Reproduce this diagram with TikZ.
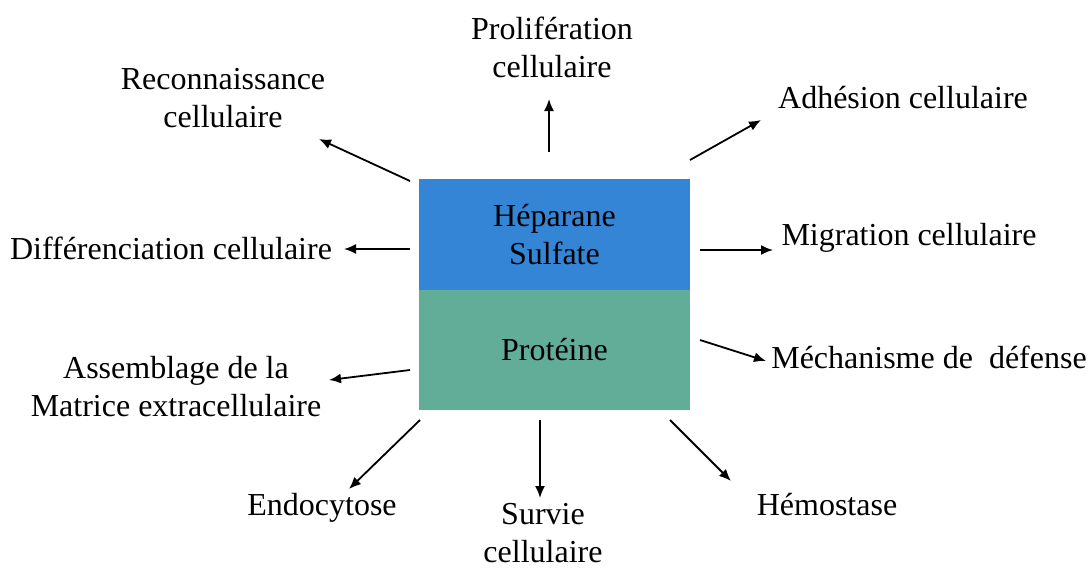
\documentclass[tikz,border=0pt]{standalone}
\usepackage{fontspec}
\setmainfont{Liberation Serif}
\usetikzlibrary{arrows.meta,positioning}
\definecolor{hsblue}{HTML}{3585D7}
\definecolor{protgreen}{HTML}{62AD97}

\begin{document}
\begin{tikzpicture}[x=0.5pt, y=-0.5pt,
    every node/.style={font=\fontsize{16}{19}\selectfont, align=center, inner sep=0pt},
    arr/.style={-{Latex[length=6pt,width=5pt]}, line width=0.9pt}]
  \useasboundingbox (0,0) rectangle (1090,567);
  % central box
  \node[fill=protgreen, minimum width=135.5pt, minimum height=60pt] (prot) at (554.5,350) {Prot\'eine};
  \node[fill=hsblue, minimum width=135.5pt, minimum height=55.5pt, above=-0.5pt of prot] (hs) {H\'eparane\\Sulfate};

  % functions
  \node (prolif) at (552,47) {Prolif\'eration\\cellulaire};
  \node (reconn) at (223,98) {Reconnaissance\\cellulaire};
  \node (adhes) at (903,98) {Adh\'esion cellulaire};
  \node (differ) at (171,248) {Diff\'erenciation cellulaire};
  \node (migr) at (909,238) {Migration cellulaire};
  \node (assem) at (176,387) {Assemblage de la\\Matrice extracellulaire};
  \node (defense) at (929,357) {M\'echanisme de\ \ d\'efense};
  \node (endo) at (322,508) {Endocytose};
  \node (survie) at (543,533) {Survie\\cellulaire};
  \node (hemo) at (827,505) {H\'emostase};

  % arrow ends
  \coordinate (prolif-t) at (549,152); \coordinate (prolif-h) at (549,99);
  \coordinate (reconn-t) at (410,181); \coordinate (reconn-h) at (319,139);
  \coordinate (adhes-t) at (690,160);  \coordinate (adhes-h) at (761,120);
  \coordinate (differ-t) at (410,249); \coordinate (differ-h) at (344,249);
  \coordinate (migr-t) at (700,250);   \coordinate (migr-h) at (773,250);
  \coordinate (assem-t) at (410,370);  \coordinate (assem-h) at (329,380);
  \coordinate (defense-t) at (700,340); \coordinate (defense-h) at (766,361);
  \coordinate (endo-t) at (420,420);   \coordinate (endo-h) at (349,489);
  \coordinate (survie-t) at (540,420); \coordinate (survie-h) at (540,498);
  \coordinate (hemo-t) at (670,420);   \coordinate (hemo-h) at (731,481);

  \foreach \n in {prolif,reconn,adhes,differ,migr,assem,defense,endo,survie,hemo}
    \draw[arr] (\n-t) -- (\n-h);
\end{tikzpicture}
\end{document}
